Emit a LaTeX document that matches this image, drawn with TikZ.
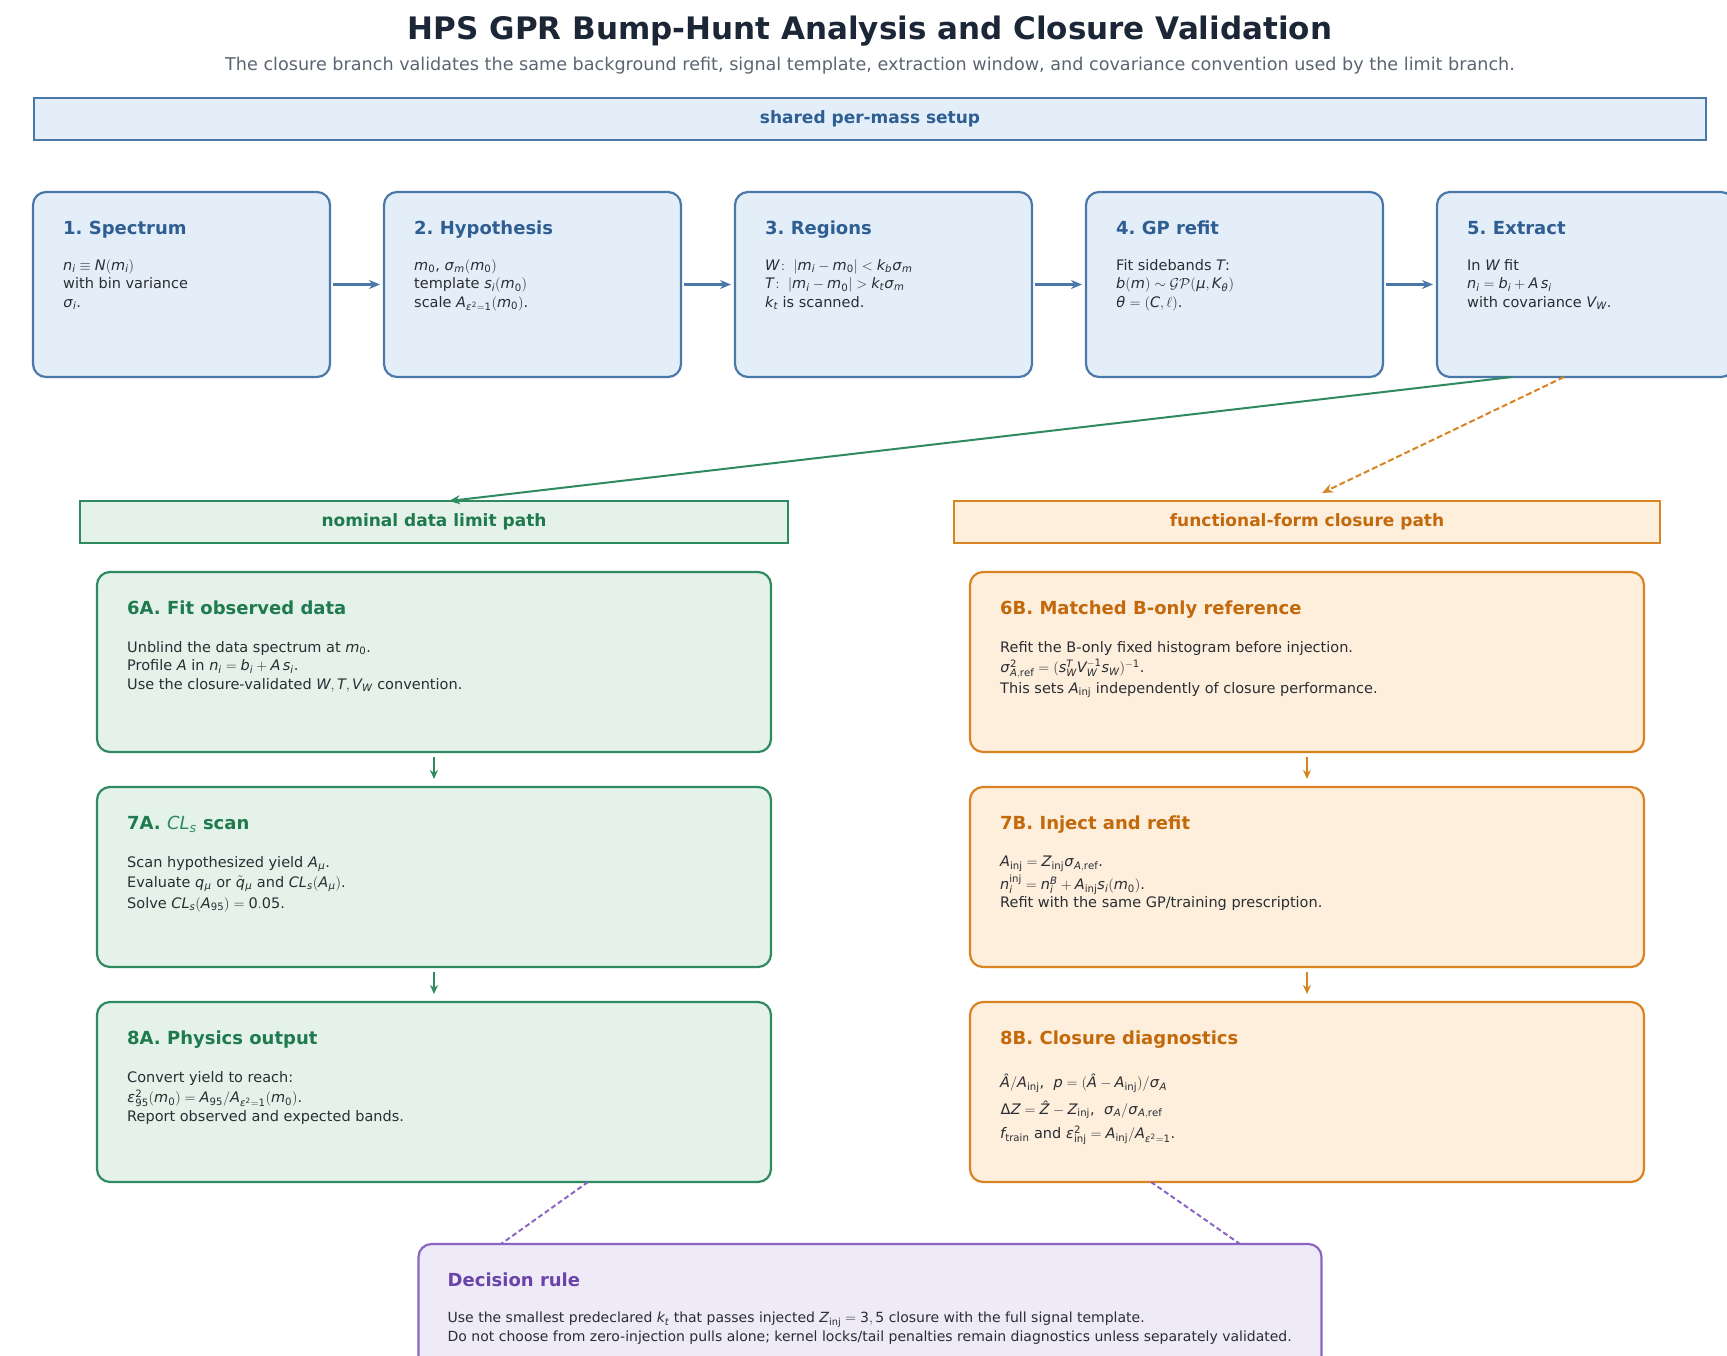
\documentclass[tikz,border=0pt]{standalone}
\usepackage{mathspec}
\setmainfont{DejaVu Sans}
\setmathsfont(Digits,Latin,Greek){DejaVu Sans}
\setmathrm{DejaVu Sans}
\frenchspacing
\usetikzlibrary{arrows.meta,positioning}

\definecolor{setupline}{HTML}{4A78A8}
\definecolor{setupfill}{HTML}{E4EEF9}
\definecolor{setuptext}{HTML}{2E5E92}
\definecolor{limitline}{HTML}{2F8A60}
\definecolor{limitfill}{HTML}{E4F2EA}
\definecolor{limittext}{HTML}{1F7A4D}
\definecolor{closureline}{HTML}{D98423}
\definecolor{closurefill}{HTML}{FDEFDC}
\definecolor{closuretext}{HTML}{C4690B}
\definecolor{ruleline}{HTML}{8A66C2}
\definecolor{rulefill}{HTML}{EFEAF8}
\definecolor{ruletext}{HTML}{6A44A8}
\definecolor{titletext}{HTML}{1B2636}
\definecolor{subtext}{HTML}{5B6572}
\definecolor{bodytext}{HTML}{2A2D33}

\tikzset{
    %Define standard arrow tip
    >={Stealth[length=11pt,width=9pt]},
    %Define style for the top row boxes
    stage/.style={
           rectangle,
           rounded corners=13pt,
           line width=2.2pt,
           minimum width=297pt,
           minimum height=185pt,
           outer sep=0pt,
           draw=setupline,
           fill=setupfill},
    %Define style for the two branches
    pathbox/.style={
           rectangle,
           rounded corners=13pt,
           line width=2.2pt,
           minimum width=674pt,
           minimum height=180pt,
           outer sep=0pt},
    rulebox/.style={
           rectangle,
           rounded corners=13pt,
           line width=2.2pt,
           minimum width=903pt,
           minimum height=150pt,
           outer sep=0pt,
           draw=ruleline,
           fill=rulefill},
    band/.style={
           rectangle,
           line width=2pt,
           minimum height=42pt,
           outer sep=0pt,
           font=\fontsize{17}{20}\selectfont\bfseries},
    boxtitle/.style={
           anchor=west,
           inner sep=0pt,
           text height=13pt,
           text depth=0pt,
           font=\fontsize{18}{22}\selectfont\bfseries},
    boxbody/.style={
           anchor=north west,
           inner sep=0pt,
           align=left,
           text=bodytext,
           execute at begin node=\strut,
           font=\fontsize{14.5}{18.5}\selectfont},
    % Define arrow style
    flow/.style={
           ->,
           line width=3pt,
           shorten <=3pt,
           shorten >=4pt},
    down/.style={
           -{Stealth[length=9pt,width=8pt]},
           line width=1.8pt,
           shorten <=5pt,
           shorten >=8pt}
}

\begin{document}
\begin{tikzpicture}[x=1pt,y=-1pt,node distance=54pt]
\useasboundingbox (0,0) rectangle (1727,1355);
\clip (0,0) rectangle (1727,1355);
\fill[white] (0,0) rectangle (1727,1355);
 %heading
\node[font=\fontsize{31}{36}\selectfont\bfseries, text=titletext] (title) at (870,31) {HPS GPR Bump-Hunt Analysis and Closure Validation};
\node[font=\fontsize{17.6}{20}\selectfont, text=subtext] (subtitle) at (870,66) {The closure branch validates the same background refit, signal template, extraction window, and covariance convention used by the limit branch.};
\node[band, draw=setupline, fill=setupfill, text=setuptext, minimum width=1672pt] (setup) at (870,119) {shared per-mass setup};

 %top row
\node[stage] (s1) at (181.5,284.5) {};
\node[stage, right=of s1] (s2) {};
\node[stage, right=of s2] (s3) {};
\node[stage, right=of s3] (s4) {};
\node[stage, right=of s4] (s5) {};

\node[boxtitle, text=setuptext] (s1t) at ([xshift=30pt,yshift=-36pt]s1.north west) {1. Spectrum};
\node[boxbody] (s1b) at ([xshift=30pt,yshift=-67pt]s1.north west) {$n_i \equiv N(m_i)$\\with bin variance\\$\sigma_i$.};
\node[boxtitle, text=setuptext] (s2t) at ([xshift=30pt,yshift=-36pt]s2.north west) {2. Hypothesis};
\node[boxbody] (s2b) at ([xshift=30pt,yshift=-67pt]s2.north west) {$m_0$, $\sigma_m(m_0)$\\template $s_i(m_0)$\\scale $A_{\epsilon^2=1}(m_0)$.};
\node[boxtitle, text=setuptext] (s3t) at ([xshift=30pt,yshift=-36pt]s3.north west) {3. Regions};
\node[boxbody] (s3b) at ([xshift=30pt,yshift=-67pt]s3.north west) {$W\!:\ |m_i-m_0|<k_b\sigma_m$\\$T\!:\ |m_i-m_0|>k_t\sigma_m$\\$k_t$ is scanned.};
\node[boxtitle, text=setuptext] (s4t) at ([xshift=30pt,yshift=-36pt]s4.north west) {4. GP refit};
\node[boxbody] (s4b) at ([xshift=30pt,yshift=-67pt]s4.north west) {Fit sidebands $T$:\\$b(m)\sim\mathcal{GP}(\mu,K_\theta)$\\$\theta=(C,\ell)$.};
\node[boxtitle, text=setuptext] (s5t) at ([xshift=30pt,yshift=-36pt]s5.north west) {5. Extract};
\node[boxbody] (s5b) at ([xshift=30pt,yshift=-67pt]s5.north west) {In $W$ fit\\$n_i=b_i+A\,s_i$\\with covariance $V_W$.};

\draw[flow, draw=setupline, fill=setupline] (s1) -- (s2);
\draw[flow, draw=setupline, fill=setupline] (s2) -- (s3);
\draw[flow, draw=setupline, fill=setupline] (s3) -- (s4);
\draw[flow, draw=setupline, fill=setupline] (s4) -- (s5);

 %branch headers
\node[band, draw=limitline, fill=limitfill, text=limittext, minimum width=708pt] (limit) at (434,522) {nominal data limit path};
\node[band, draw=closureline, fill=closurefill, text=closuretext, minimum width=706pt] (closure) at (1307,522) {functional-form closure path};

\draw[->, limitline, line width=2pt] ([xshift=75pt]s5.south west) -- ([xshift=15pt]limit.north);
\draw[->, closureline, line width=2pt, dash pattern=on 6pt off 3pt] ([xshift=127pt]s5.south west) -- ([xshift=15pt,yshift=8pt]closure.north);

 %limit branch
\node[pathbox, draw=limitline, fill=limitfill, below=29pt of limit] (a6) {};
\node[pathbox, draw=limitline, fill=limitfill, below=35pt of a6] (a7) {};
\node[pathbox, draw=limitline, fill=limitfill, below=35pt of a7] (a8) {};

\node[boxtitle, text=limittext] (a6t) at ([xshift=30pt,yshift=-36pt]a6.north west) {6A. Fit observed data};
\node[boxbody] (a6b) at ([xshift=30pt,yshift=-69pt]a6.north west) {Unblind the data spectrum at $m_0$.\\Profile $A$ in $n_i=b_i+A\,s_i$.\\Use the closure-validated $W,T,V_W$ convention.};
\node[boxtitle, text=limittext] (a7t) at ([xshift=30pt,yshift=-36pt]a7.north west) {7A. \textcolor{limitline}{\mdseries$CL_s$} scan};
\node[boxbody] (a7b) at ([xshift=30pt,yshift=-69pt]a7.north west) {Scan hypothesized yield $A_\mu$.\\[2pt]Evaluate $q_\mu$ or $\tilde{q}_\mu$ and $CL_s(A_\mu)$.\\[2pt]Solve $CL_s(A_{95})=0.05$.};
\node[boxtitle, text=limittext] (a8t) at ([xshift=30pt,yshift=-36pt]a8.north west) {8A. Physics output};
\node[boxbody] (a8b) at ([xshift=30pt,yshift=-69pt]a8.north west) {Convert yield to reach:\\[2pt]$\epsilon^2_{95}(m_0)=A_{95}/A_{\epsilon^2=1}(m_0)$.\\Report observed and expected bands.};

\draw[down, limitline] (a6) -- (a7);
\draw[down, limitline] (a7) -- (a8);

 %closure branch
\node[pathbox, draw=closureline, fill=closurefill, below=29pt of closure] (b6) {};
\node[pathbox, draw=closureline, fill=closurefill, below=35pt of b6] (b7) {};
\node[pathbox, draw=closureline, fill=closurefill, below=35pt of b7] (b8) {};

\node[boxtitle, text=closuretext] (b6t) at ([xshift=30pt,yshift=-36pt]b6.north west) {6B. Matched B-only reference};
\node[boxbody] (b6b) at ([xshift=30pt,yshift=-69pt]b6.north west) {Refit the B-only fixed histogram before injection.\\[2pt]$\sigma^2_{A,\mathrm{ref}}=(s_W^TV_W^{-1}s_W)^{-1}$.\\[2pt]This sets $A_{\mathrm{inj}}$ independently of closure performance.};
\node[boxtitle, text=closuretext] (b7t) at ([xshift=30pt,yshift=-36pt]b7.north west) {7B. Inject and refit};
\node[boxbody] (b7b) at ([xshift=30pt,yshift=-69pt]b7.north west) {$A_{\mathrm{inj}}=Z_{\mathrm{inj}}\sigma_{A,\mathrm{ref}}$.\\[2pt]$n_i^{\mathrm{inj}}=n_i^B+A_{\mathrm{inj}}s_i(m_0)$.\\Refit with the same GP/training prescription.};
\node[boxtitle, text=closuretext] (b8t) at ([xshift=30pt,yshift=-36pt]b8.north west) {8B. Closure diagnostics};
\node[boxbody] (b8b) at ([xshift=30pt,yshift=-72pt]b8.north west) {$\mbox{\textit{Â}}/A_{\mathrm{inj}}$,\ \ $p=(\mbox{\textit{Â}}-A_{\mathrm{inj}})/\sigma_A$\\[8pt]$\Delta Z=\mbox{\textit{Ẑ}}-Z_{\mathrm{inj}}$,\ \ $\sigma_A/\sigma_{A,\mathrm{ref}}$\\[6pt]$f_{\mathrm{train}}$ and $\epsilon^2_{\mathrm{inj}}=A_{\mathrm{inj}}/A_{\epsilon^2=1}$.};

\draw[down, closureline] (b6) -- (b7);
\draw[down, closureline] (b7) -- (b8);

 %decision
\node[rulebox] (rule) at (870,1319) {};
\node[boxtitle, text=ruletext] (rulet) at ([xshift=29pt,yshift=-36pt]rule.north west) {Decision rule};
\node[boxbody, font=\fontsize{14}{19}\selectfont] (ruleb) at ([xshift=29pt,yshift=-68pt]rule.north west) {Use the smallest predeclared $k_t$ that passes injected $Z_{\mathrm{inj}}=3,5$ closure with the full signal template.\\Do not choose from zero-injection pulls alone; kernel locks/tail penalties remain diagnostics unless separately validated.};

\draw[ruleline, line width=2pt, dash pattern=on 5pt off 3pt] ([xshift=154pt]a8.south) -- ([xshift=-369pt]rule.north);
\draw[ruleline, line width=2pt, dash pattern=on 5pt off 3pt] ([xshift=-156pt]b8.south) -- ([xshift=370pt]rule.north);
\end{tikzpicture}
\end{document}
